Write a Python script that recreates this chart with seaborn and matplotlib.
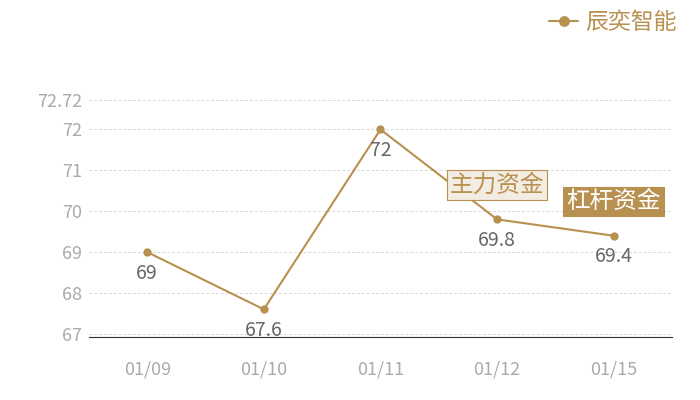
import pandas as pd
import matplotlib
matplotlib.use('Agg')
import matplotlib.pyplot as plt
import seaborn as sns

# data
dates = ['01/09', '01/10', '01/11', '01/12', '01/15']
prices = [69, 67.6, 72, 69.8, 69.4]
series_name = '辰奕智能'
yticks = [67, 68, 69, 70, 71, 72, 72.72]

gold = '#b8904f'

sns.set_style('white')
plt.rcParams['font.family'] = ['Noto Sans CJK SC', 'DejaVu Sans']

df = pd.DataFrame({'date': dates, 'price': prices})

fig = plt.figure(figsize=(7, 4), dpi=100)
ax = fig.add_axes([0.127, 0.1575, 0.833, 0.5925])

sns.lineplot(data=df, x='date', y='price', ax=ax, color=gold, linewidth=1.5,
             marker='o', markersize=6, markeredgewidth=0, label=series_name,
             sort=False)

ax.set_xlim(-0.5, len(dates) - 0.5)
ax.set_ylim(min(prices) * 0.99, max(prices) * 1.01)
ax.set_yticks(yticks)
ax.set_yticklabels([f'{v:g}' for v in yticks])
ax.yaxis.grid(True, linestyle=(0, (3, 2)), color='#d8d8d8', linewidth=0.7)
ax.xaxis.grid(False)
for s in ['top', 'right', 'left']:
    ax.spines[s].set_visible(False)
ax.spines['bottom'].set_color('#333333')
ax.spines['bottom'].set_linewidth(0.8)
ax.tick_params(axis='both', length=0, labelsize=13, colors='#aaaaaa')
ax.tick_params(axis='x', pad=17)
ax.tick_params(axis='y', pad=5)
ax.set_xlabel('')
ax.set_ylabel('')

# value labels under points
for i, v in enumerate(prices):
    ax.annotate(f'{v:g}', (i, v), xytext=(0, -7.5), textcoords='offset points',
                ha='center', va='top', fontsize=14, color='#666666')

# boxed tags
ax.text(3, 70.64, '主力资金', ha='center', va='center', fontsize=17, color=gold,
        bbox=dict(boxstyle='square,pad=0.13', facecolor='#f3ece2', edgecolor=gold, linewidth=0.8))
ax.text(4, 70.24, '杠杆资金', ha='center', va='center', fontsize=17, color='white',
        bbox=dict(boxstyle='square,pad=0.13', facecolor=gold, edgecolor=gold, linewidth=0.8))

leg = ax.legend(loc='upper right', bbox_to_anchor=(0.98, 0.995), bbox_transform=fig.transFigure,
                frameon=False, fontsize=16.5, handlelength=1.3, handletextpad=0.3,
                borderaxespad=0, markerscale=1.3)
for t in leg.get_texts():
    t.set_color(gold)

fig.savefig('out.png', dpi=100)
